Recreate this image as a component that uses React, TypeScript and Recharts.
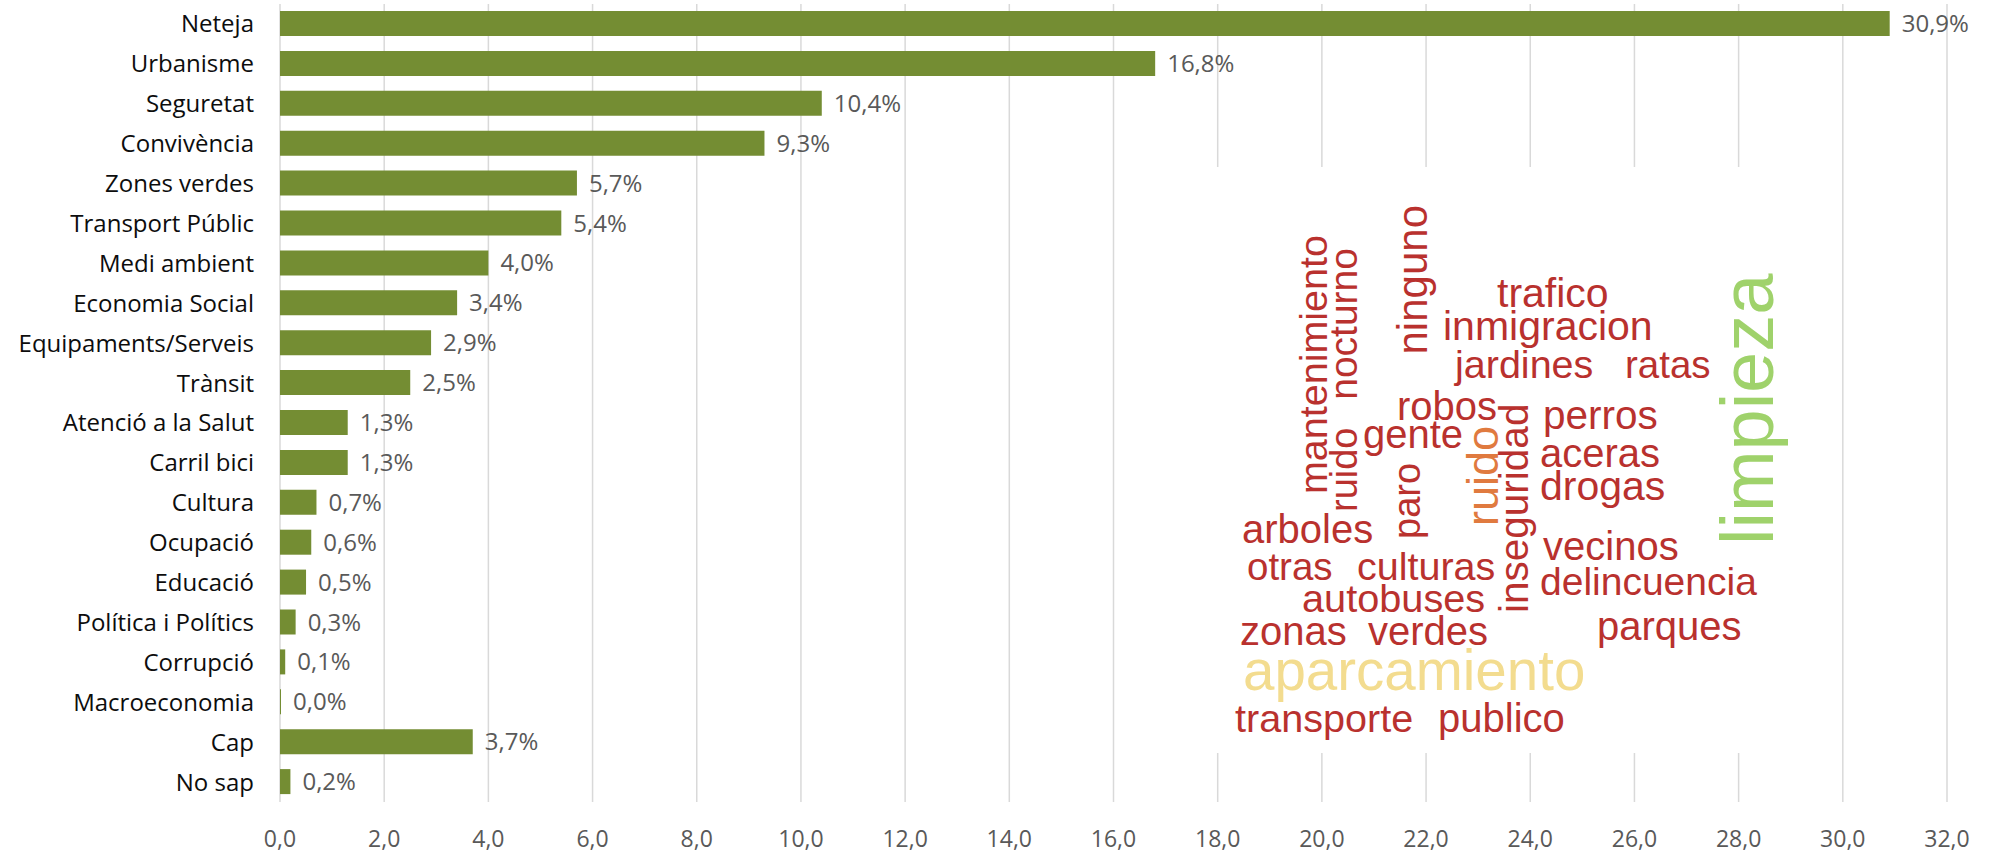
import React from 'react';
import { BarChart, Bar, XAxis, YAxis, CartesianGrid, LabelList } from 'recharts';

const categories = [
  'Neteja', 'Urbanisme', 'Seguretat', 'Convivència', 'Zones verdes', 'Transport Públic',
  'Medi ambient', 'Economia Social', 'Equipaments/Serveis', 'Trànsit', 'Atenció a la Salut',
  'Carril bici', 'Cultura', 'Ocupació', 'Educació', 'Política i Polítics', 'Corrupció',
  'Macroeconomia', 'Cap', 'No sap',
];
const percentages = [30.9, 16.8, 10.4, 9.3, 5.7, 5.4, 4.0, 3.4, 2.9, 2.5, 1.3, 1.3, 0.7, 0.6, 0.5, 0.3, 0.1, 0.0, 3.7, 0.2];
const xTicks = [0, 2, 4, 6, 8, 10, 12, 14, 16, 18, 20, 22, 24, 26, 28, 30, 32];

// word cloud pasted on top of the chart (an image in the original)
const cloudWords = [
  'mantenimiento', 'nocturno', 'ruido', 'ninguno', 'paro', 'ruido', 'inseguridad', 'limpieza',
  'trafico', 'inmigracion', 'jardines', 'ratas', 'robos', 'perros', 'gente', 'aceras', 'drogas',
  'arboles', 'vecinos', 'otras', 'culturas', 'delincuencia', 'autobuses', 'parques', 'zonas',
  'verdes', 'aparcamiento', 'transporte', 'publico',
];

const data = categories.map((name, i) => ({ name, value: percentages[i] }));

const RED = '#b9312e';
// x, y = baseline point; vertical words are rotated -90deg
const cloudLayout: { x: number; y: number; size: number; vertical?: boolean; anchor?: 'start' | 'end'; color?: string }[] = [
  { x: 1327, y: 235, size: 39.5, vertical: true, anchor: 'end' },
  { x: 1357, y: 248, size: 39, vertical: true, anchor: 'end' },
  { x: 1357, y: 512, size: 38, vertical: true, anchor: 'start' },
  { x: 1427, y: 205, size: 42, vertical: true, anchor: 'end' },
  { x: 1420, y: 539, size: 38, vertical: true, anchor: 'start' },
  { x: 1498, y: 526, size: 45, vertical: true, anchor: 'start', color: '#e07a3f' },
  { x: 1528, y: 613, size: 40.5, vertical: true, anchor: 'start' },
  { x: 1773, y: 545, size: 74, vertical: true, anchor: 'start', color: '#9fd26b' },
  { x: 1497, y: 307, size: 41 },
  { x: 1443, y: 340, size: 41 },
  { x: 1455, y: 378, size: 39.5 },
  { x: 1625, y: 378, size: 38.5 },
  { x: 1397, y: 420, size: 40 },
  { x: 1543, y: 429, size: 40.5 },
  { x: 1363, y: 448, size: 40 },
  { x: 1540, y: 467, size: 40 },
  { x: 1540, y: 500, size: 41 },
  { x: 1242, y: 543, size: 40 },
  { x: 1543, y: 560, size: 40 },
  { x: 1247, y: 580, size: 38.5 },
  { x: 1357, y: 580, size: 39.5 },
  { x: 1540, y: 595, size: 39 },
  { x: 1302, y: 612, size: 39.7 },
  { x: 1597, y: 640, size: 40 },
  { x: 1240, y: 645, size: 40 },
  { x: 1368, y: 645, size: 40 },
  { x: 1243, y: 690, size: 56.5, color: '#f3dc8f' },
  { x: 1235, y: 732, size: 39.6 },
  { x: 1438, y: 732, size: 40 },
];

const fmt = (v: number) => v.toFixed(1).replace('.', ',');

const WordCloud = () => (
  <svg width={1995} height={854} style={{ position: 'absolute', left: 0, top: 0, pointerEvents: 'none' }}>
    <rect x={1210} y={167} width={600} height={586} fill="#ffffff" />
    {cloudWords.map((w, i) => {
      const l = cloudLayout[i];
      return (
        <text
          key={i}
          x={l.vertical ? 0 : l.x}
          y={l.vertical ? 0 : l.y}
          transform={l.vertical ? `translate(${l.x},${l.y}) rotate(-90)` : undefined}
          textAnchor={l.anchor || 'start'}
          fontFamily="'Liberation Sans', Arial, sans-serif"
          fontSize={l.size}
          fill={l.color || RED}
        >
          {w}
        </text>
      );
    })}
  </svg>
);

export default function App() {
  return (
    <div style={{ position: 'absolute', left: 0, top: 0, width: 1995, height: 854, background: '#fff', fontFamily: "'Open Sans', sans-serif" }}>
      <BarChart
        width={1995}
        height={854}
        data={data}
        layout="vertical"
        margin={{ top: 4, right: 48, bottom: 0, left: 0 }}
      >
        <CartesianGrid horizontal={false} stroke="#d9d9d9" strokeWidth={1.5} />
        <XAxis
          type="number"
          domain={[0, 32]}
          ticks={xTicks}
          tickFormatter={fmt}
          axisLine={false}
          tickLine={false}
          height={52}
          tickMargin={23}
          tick={{ fill: '#595959', fontSize: 23, fontFamily: "'Open Sans', sans-serif" }}
        />
        <YAxis
          type="category"
          dataKey="name"
          width={280}
          interval={0}
          axisLine={false}
          tickLine={false}
          tickMargin={20}
          tick={{ fill: '#0d0d0d', fontSize: 24, fontFamily: "'Open Sans', sans-serif" }}
        />
        <Bar dataKey="value" fill="#748d33" barSize={25} minPointSize={1} isAnimationActive={false}>
          <LabelList
            dataKey="value"
            position="right"
            offset={12}
            formatter={(v: number) => `${fmt(v)}%`}
            fill="#595959"
            fontSize={24}
            fontFamily="'Open Sans', sans-serif"
          />
        </Bar>
      </BarChart>
      <WordCloud />
    </div>
  );
}
